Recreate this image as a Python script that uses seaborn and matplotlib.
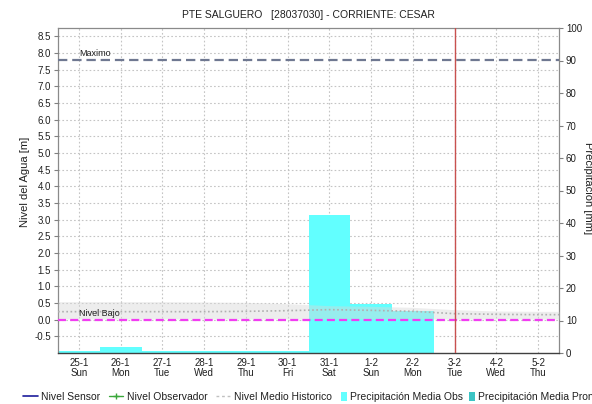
import numpy as np
import pandas as pd
import matplotlib
matplotlib.use("Agg")
import matplotlib.pyplot as plt
import matplotlib.transforms as mtransforms
from matplotlib.lines import Line2D
from matplotlib.patches import Patch
import seaborn as sns

sns.set_theme(style="white")
plt.rcParams["font.family"] = ["Liberation Sans", "DejaVu Sans"]

# ---- data -------------------------------------------------------------
days = ["25-1", "26-1", "27-1", "28-1", "29-1", "30-1",
        "31-1", "1-2", "2-2", "3-2", "4-2", "5-2"]
weekdays = ["Sun", "Mon", "Tue", "Wed", "Thu", "Fri",
            "Sat", "Sun", "Mon", "Tue", "Wed", "Thu"]
precip_obs = [0.7, 2.0, 0.7, 0.7, 0.7, 0.7, 42.5, 15.2, 12.9, 0.0, 0.0, 0.0]
nivel_medio = [0.24, 0.24, 0.24, 0.24, 0.25, 0.27, 0.30, 0.28, 0.25, 0.18, 0.16, 0.15]
medio_hi = [0.54, 0.54, 0.54, 0.53, 0.52, 0.48, 0.42, 0.40, 0.37, 0.30, 0.26, 0.25]
medio_lo = [0.02] * 12
nivel_maximo = 7.8
nivel_bajo = 0.0
hoy = "3-2"

level_ticks = np.arange(-0.5, 8.51, 0.5)
precip_ticks = np.arange(0, 101, 10)

title = "PTE SALGUERO   [28037030] - CORRIENTE: CESAR"

# ---- figure -----------------------------------------------------------
W, H = 592, 404
fig = plt.figure(figsize=(W / 100, H / 100), dpi=100)
fig.patch.set_facecolor("white")
ax_p = fig.add_axes([58 / W, 1 - 353 / H, 501 / W, 325 / H])
ax_l = ax_p.twinx()

# precipitation on the right axis, water level on the left axis
ax_p.yaxis.tick_right()
ax_p.yaxis.set_label_position("right")
ax_l.yaxis.tick_left()
ax_l.yaxis.set_label_position("left")

df = pd.DataFrame({"dia": days, "precip": precip_obs})
sns.barplot(data=df, x="dia", y="precip", order=days, color="#62ffff",
            saturation=1, width=1.0, linewidth=0, ax=ax_p, zorder=2)
ax_p.set_xlabel("")
ax_p.set_ylabel("")

xpos = np.arange(len(days))
ax_p.set_xlim(-0.5, len(days) - 0.5)
ax_p.set_ylim(0, 100)
ax_l.set_ylim(-1.0, 8.75)

# grid under the bars
grid_kw = dict(color="#c4c4c4", lw=0.8, ls=(0, (1.5, 2)))
for x in xpos:
    ax_p.axvline(x, zorder=0.5, **grid_kw)
blend = mtransforms.blended_transform_factory(ax_p.transAxes, ax_l.transData)
for v in level_ticks:
    ax_p.plot([0, 1], [v, v], transform=blend, zorder=0.5, **grid_kw)

# historic mean level with its band, spanning the full width
xe = np.r_[-0.5, xpos, len(days) - 0.5]
def edge(a):
    return np.r_[a[0], a, a[-1]]
ax_l.fill_between(xe, edge(medio_lo), edge(medio_hi), color="#d8d8d8",
                  alpha=0.45, lw=0, zorder=1)
ax_l.plot(xe, edge(nivel_medio), color="#b0b0b0", lw=1.2,
          ls=(0, (1, 1.5)), zorder=2)

# reference levels
ax_l.axhline(nivel_maximo, color="#6f7891", lw=1.6, dashes=(4.2, 2.2), zorder=3)
ax_l.axhline(nivel_bajo, color="#f23cf2", lw=1.6, dashes=(3.6, 1.9), zorder=3)
ax_l.text(0, nivel_maximo + 0.06, "Maximo", fontsize=6.5, color="#202020",
          ha="left", va="bottom")
ax_l.text(0, nivel_bajo + 0.06, "Nivel Bajo", fontsize=6.5, color="#202020",
          ha="left", va="bottom")

# current day marker
ax_l.axvline(days.index(hoy), color="#c8514f", lw=1.0, zorder=4)

# ticks
ax_l.set_yticks(level_ticks)
ax_l.set_yticklabels([f"{v:.1f}" for v in level_ticks])
ax_p.set_yticks(precip_ticks)
ax_p.set_yticklabels([str(int(v)) for v in precip_ticks])
ax_p.set_xticks(xpos)
ax_p.set_xticklabels([f"{d}\n{w}" for d, w in zip(days, weekdays)],
                     linespacing=1.05)
ax_l.tick_params(axis="y", which="both", left=True, right=False, length=3,
                 width=0.8, color="#808080", labelsize=7, pad=2,
                 labelcolor="#202020")
ax_p.tick_params(axis="y", which="both", right=True, left=False, length=3,
                 width=0.8, color="#808080", labelsize=7, pad=2,
                 labelcolor="#202020")
ax_p.tick_params(axis="x", bottom=False, labelsize=7, pad=-2.5,
                 labelcolor="#202020")

# frame
for s in ax_l.spines.values():
    s.set_visible(False)
for name in ("left", "right", "top"):
    ax_p.spines[name].set_color("#8a8a8a")
    ax_p.spines[name].set_linewidth(0.9)
ax_p.spines["bottom"].set_color("#404040")
ax_p.spines["bottom"].set_linewidth(1.0)
ax_p.spines["bottom"].set_linestyle((0, (1, 1)))

# texts
fig.text(308 / W, 1 - 15 / H, title, ha="center", va="center",
         fontsize=7.5, color="#202020")
fig.text(25 / W, 1 - 182 / H, "Nivel del Agua [m]", rotation=90,
         ha="center", va="center", fontsize=8, color="#202020")
fig.text(588 / W, 1 - 188 / H, "Precipitación [mm]", rotation=270,
         ha="center", va="center", fontsize=8, color="#202020")

# legend: line series, then the precipitation swatches
line_handles = [
    Line2D([], [], color="#1c1c9c", lw=1.2),
    Line2D([], [], color="#3aa83a", lw=1.0, marker="+", markersize=4),
    Line2D([], [], color="#c0c0c0", lw=1.0, ls=(0, (2, 2))),
]
line_labels = ["Nivel Sensor", "Nivel Observador", "Nivel Medio Historico"]
patch_handles = [
    Patch(facecolor="#62ffff", edgecolor="none"),
    Patch(facecolor="#3cc4c4", edgecolor="none"),
]
patch_labels = ["Precipitación Media Obs", "Precipitación Media Pronosticada"]
legend_y = 1 - 397 / H
fig.legend(line_handles, line_labels, loc="center left",
           bbox_to_anchor=(23 / W, legend_y), ncol=3, frameon=False,
           fontsize=7.5, handlelength=1.4, handletextpad=0.35,
           columnspacing=0.8, borderpad=0, borderaxespad=0,
           labelcolor="#202020")
fig.legend(patch_handles, patch_labels, loc="center left",
           bbox_to_anchor=(341 / W, legend_y), ncol=2, frameon=False,
           fontsize=7.5, handlelength=0.6, handleheight=0.9,
           handletextpad=0.3, columnspacing=0.55, borderpad=0,
           borderaxespad=0, labelcolor="#202020")

fig.savefig("out.png", dpi=100)
